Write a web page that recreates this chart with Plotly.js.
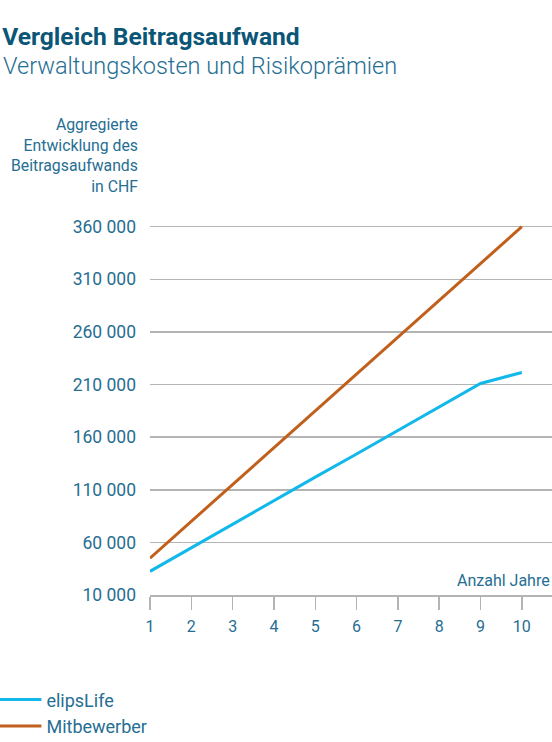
<!DOCTYPE html>
<html>
<head>
<meta charset="utf-8">
<script src="https://cdn.plot.ly/plotly-3.0.1.min.js"></script>
<style>
  html, body { margin: 0; padding: 0; background: #fff; }
  #chart { width: 552px; height: 742px; }
</style>
</head>
<body>
<div id="chart"></div>
<script>
// values
const years = [1, 2, 3, 4, 5, 6, 7, 8, 9, 10];
const elipsLife = [32500, 55000, 77000, 99500, 122000, 144000, 166500, 189000, 211000, 221500];
const mitbewerber = [45000, 80000, 115000, 150000, 185000, 220000, 255000, 290000, 325000, 360000];
const yTicks = [10000, 60000, 110000, 160000, 210000, 260000, 310000, 360000];

const textColor = '#266e92';
const gridColor = '#b4b4b4';
const baseFont = 'Roboto, "Open Sans", sans-serif';

let traces = [
  {
    x: years,
    y: elipsLife,
    name: 'elipsLife',
    legendgroup: 'a',
    mode: 'lines',
    line: { color: '#12b8ea', width: 3 }
  },
  {
    x: years,
    y: mitbewerber,
    name: 'Mitbewerber',
    legendgroup: 'b',
    mode: 'lines',
    line: { color: '#c0601c', width: 3 }
  }
];

let layout = {
  width: 552,
  height: 742,
  margin: { l: 150, r: 0, t: 216, b: 147, autoexpand: false },
  paper_bgcolor: '#fff',
  plot_bgcolor: '#fff',
  separators: ', ',
  font: { family: baseFont, size: 16, color: textColor },
  title: {
    text: '<b>Vergleich Beitragsaufwand</b>',
    font: { family: baseFont, size: 24.6, color: '#0b5576' },
    x: 0.004, xanchor: 'left', xref: 'container',
    y: 0.951, yanchor: 'middle', yref: 'container'
  },
  xaxis: {
    range: [1, 10.73],
    tickvals: years,
    showgrid: false,
    zeroline: false,
    showline: true,
    linecolor: gridColor,
    linewidth: 1.5,
    ticks: 'outside',
    ticklen: 13,
    tickwidth: 1.5,
    tickcolor: gridColor,
    ticklabelstandoff: 3,
    tickfont: { size: 16, color: textColor },
    automargin: false,
    fixedrange: true
  },
  yaxis: {
    range: [10000, 370200],
    tickvals: yTicks,
    tickformat: ',d',
    showgrid: true,
    gridcolor: gridColor,
    gridwidth: 1.5,
    zeroline: false,
    showline: false,
    ticks: '',
    ticklabelstandoff: 13,
    tickfont: { size: 17.5, color: textColor },
    automargin: false,
    fixedrange: true
  },
  showlegend: true,
  legend: {
    x: -0.392, xanchor: 'left',
    y: -0.228, yanchor: 'top',
    orientation: 'v',
    tracegroupgap: 0,
    itemwidth: 44,
    font: { size: 18, color: textColor },
    bgcolor: 'rgba(0,0,0,0)'
  },
  annotations: [
    {
      text: 'Verwaltungskosten und Risikoprämien',
      xref: 'paper', yref: 'paper',
      x: -0.37, xanchor: 'left',
      y: (595 - 66) / 379, yanchor: 'middle',
      showarrow: false,
      font: { size: 23.5, color: textColor, weight: 300 }
    },
    {
      text: 'Aggregierte<br>Entwicklung des<br>Beitragsaufwands<br>in CHF',
      xref: 'paper', yref: 'paper',
      x: -0.025, xanchor: 'right',
      y: 1.272, yanchor: 'top',
      align: 'right',
      showarrow: false,
      font: { size: 15.8, color: textColor }
    },
    {
      text: 'Anzahl Jahre',
      xref: 'paper', yref: 'y',
      x: 1, xanchor: 'right',
      y: 10000, yanchor: 'bottom', yshift: 3,
      showarrow: false,
      font: { size: 16, color: textColor }
    }
  ]
};

let staticConfig = { staticPlot: true, displayModeBar: false };

Plotly.newPlot('chart', traces, layout, staticConfig);
</script>
</body>
</html>
